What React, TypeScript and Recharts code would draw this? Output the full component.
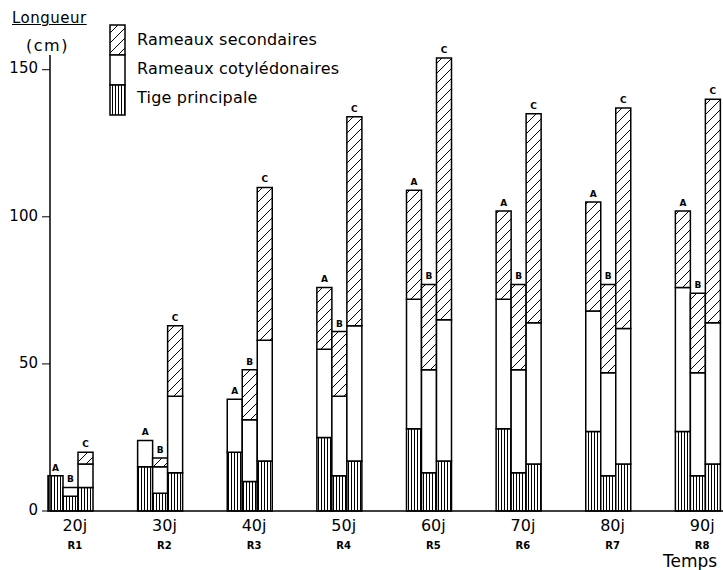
import React from "react";
import { Bar, BarChart, LabelList, ReferenceLine, XAxis, YAxis } from "recharts";

const jours = ["20j", "30j", "40j", "50j", "60j", "70j", "80j", "90j"];
const rangs = ["R1", "R2", "R3", "R4", "R5", "R6", "R7", "R8"];

// A
const tigeA = [12, 15, 20, 25, 28, 28, 27, 27];
const cotylA = [0, 9, 18, 30, 44, 44, 41, 49];
const secA = [0, 0, 0, 21, 37, 30, 37, 26];
// B
const tigeB = [5, 6, 10, 12, 13, 13, 12, 12];
const cotylB = [3, 9, 21, 27, 35, 35, 35, 35];
const secB = [0, 3, 17, 22, 29, 29, 30, 27];
// C
const tigeC = [8, 13, 17, 17, 17, 16, 16, 16];
const cotylC = [8, 26, 41, 46, 48, 48, 46, 48];
const secC = [4, 24, 52, 71, 89, 71, 75, 76];

const data = jours.map((j, i) => ({
  jour: j,
  tigeA: tigeA[i],
  cotylA: cotylA[i],
  secA: secA[i],
  tigeB: tigeB[i],
  cotylB: cotylB[i],
  secB: secB[i],
  tigeC: tigeC[i],
  cotylC: cotylC[i],
  secC: secC[i],
}));

const FONT = "'DejaVu Sans', sans-serif";

const XTick = (props: any) => {
  const { x, y, payload, index } = props;
  return (
    <g transform={`translate(${x + 4},${y})`}>
      <text textAnchor="middle" y={12} fontSize={16} fontFamily={FONT} fill="#000">
        {payload.value}
      </text>
      <text textAnchor="middle" y={30} fontSize={10} fontWeight="bold" fontFamily={FONT} fill="#000">
        {rangs[index]}
      </text>
    </g>
  );
};

const YTick = (props: any) => {
  const { x, y, payload } = props;
  return (
    <text x={x - 2} y={y} dy="0.25em" textAnchor="end" fontSize={15} fontFamily={FONT} fill="#000">
      {payload.value}
    </text>
  );
};

// label placed above the whole stack, from the bottom segment's geometry
const letterLabel = (letter: string, tige: number[], cotyl: number[], sec: number[]) => (props: any) => {
  const { x, y, width, height, index } = props;
  const pxPerUnit = height / tige[index];
  const top = y + height - (tige[index] + cotyl[index] + sec[index]) * pxPerUnit;
  return (
    <text
      x={x + width / 2}
      y={top - 5}
      textAnchor="middle"
      fontSize={9}
      fontWeight="bold"
      fontFamily={FONT}
      fill="#000"
    >
      {letter}
    </text>
  );
};

const LegendBox = () => (
  <div style={{ position: "absolute", left: 109, top: 24, width: 320, height: 100, fontFamily: FONT }}>
    <svg width={20} height={94} style={{ position: "absolute", left: 0, top: 0 }}>
      <rect x={1} y={1} width={15} height={30} fill="url(#hatchDiag)" stroke="#000" strokeWidth={1.5} />
      <rect x={1} y={31} width={15} height={30} fill="#fff" stroke="#000" strokeWidth={1.5} />
      <rect x={1} y={61} width={15} height={30} fill="url(#hatchVert)" stroke="#000" strokeWidth={1.5} />
    </svg>
    {["Rameaux secondaires", "Rameaux cotylédonaires", "Tige principale"].map((t, i) => (
      <div
        key={t}
        style={{
          position: "absolute",
          left: 28,
          top: 6 + i * 29,
          fontSize: 16,
          letterSpacing: 0.2,
          whiteSpace: "nowrap",
          color: "#000",
        }}
      >
        {t}
      </div>
    ))}
  </div>
);

export default function App() {
  const stroke = { stroke: "#000", strokeWidth: 1.5 };
  return (
    <div style={{ position: "absolute", left: 0, top: 0, width: 723, height: 570, background: "#fff" }}>
      <BarChart
        width={723}
        height={570}
        data={data}
        margin={{ top: 55, right: 0, bottom: 19, left: 8 }}
        barSize={15}
        barGap={0}
      >
        <defs>
          <pattern id="hatchVert" patternUnits="userSpaceOnUse" width={3} height={10}>
            <rect width={3} height={10} fill="#fff" />
            <line x1={0.5} y1={0} x2={0.5} y2={10} stroke="#000" strokeWidth={1} />
          </pattern>
          <pattern id="hatchDiag" patternUnits="userSpaceOnUse" width={10} height={10}>
            <rect width={10} height={10} fill="#fff" />
            <path d="M0,10 L10,0 M-2.5,2.5 L2.5,-2.5 M7.5,12.5 L12.5,7.5" stroke="#000" strokeWidth={1} />
          </pattern>
        </defs>
        <XAxis
          dataKey="jour"
          height={40}
          padding={{ left: -24, right: -20 }}
          tickLine={false}
          tick={<XTick />}
          axisLine={{ stroke: "#000", strokeWidth: 1.5 }}
          interval={0}
        />
        <YAxis
          width={42}
          domain={[0, 155]}
          ticks={[0, 50, 100, 150]}
          tickSize={8}
          tickLine={{ stroke: "#000" }}
          axisLine={{ stroke: "#000", strokeWidth: 1.5 }}
          tick={<YTick />}
          interval={0}
        />
        {/* the drawn y axis stops at the 150 tick: blank the stretch above it */}
        <ReferenceLine
          segment={[
            { x: "20j", y: 150.4 },
            { x: "20j", y: 155 },
          ]}
          position="start"
          ifOverflow="visible"
          stroke="#fff"
          strokeWidth={4}
          transform="translate(24,0)"
        />
        <Bar dataKey="tigeA" stackId="A" fill="url(#hatchVert)" {...stroke} isAnimationActive={false}>
          <LabelList dataKey="tigeA" content={letterLabel("A", tigeA, cotylA, secA)} />
        </Bar>
        <Bar dataKey="cotylA" stackId="A" fill="#fff" {...stroke} isAnimationActive={false} />
        <Bar dataKey="secA" stackId="A" fill="url(#hatchDiag)" {...stroke} isAnimationActive={false} />
        <Bar dataKey="tigeB" stackId="B" fill="url(#hatchVert)" {...stroke} isAnimationActive={false}>
          <LabelList dataKey="tigeB" content={letterLabel("B", tigeB, cotylB, secB)} />
        </Bar>
        <Bar dataKey="cotylB" stackId="B" fill="#fff" {...stroke} isAnimationActive={false} />
        <Bar dataKey="secB" stackId="B" fill="url(#hatchDiag)" {...stroke} isAnimationActive={false} />
        <Bar dataKey="tigeC" stackId="C" fill="url(#hatchVert)" {...stroke} isAnimationActive={false}>
          <LabelList dataKey="tigeC" content={letterLabel("C", tigeC, cotylC, secC)} />
        </Bar>
        <Bar dataKey="cotylC" stackId="C" fill="#fff" {...stroke} isAnimationActive={false} />
        <Bar dataKey="secC" stackId="C" fill="url(#hatchDiag)" {...stroke} isAnimationActive={false} />
      </BarChart>
      <div style={{ position: "absolute", left: 12, top: 9, fontFamily: FONT, fontSize: 15, textDecoration: "underline", letterSpacing: 0.5 }}>
        Longueur
      </div>
      <div style={{ position: "absolute", left: 26, top: 36, fontFamily: FONT, fontSize: 16, letterSpacing: 1.5 }}>(cm)</div>
      <div style={{ position: "absolute", left: 663, top: 551, fontFamily: FONT, fontSize: 17 }}>Temps</div>
      <LegendBox />
    </div>
  );
}
